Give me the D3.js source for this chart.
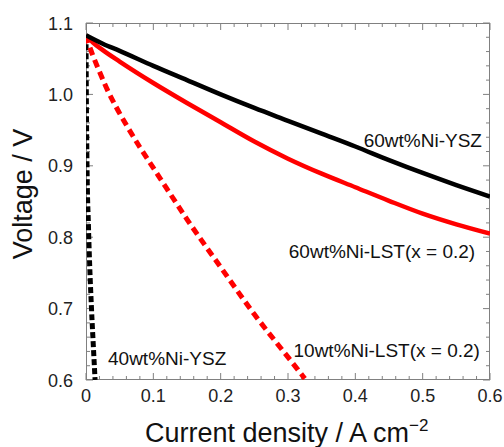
<!DOCTYPE html>
<html>
  <head>
    <meta charset="utf-8">
    <title>I-V curves</title>
    <script src="https://d3js.org/d3.v7.min.js"></script>
    <style>
      body { margin: 0; background: #fff; }
      svg { font-family: "Liberation Sans", Arial, sans-serif; }
      .frame { fill: none; stroke: #808080; stroke-width: 1; }
      .tick line { stroke: #808080; }
      .tickLabel { font-size: 18px; fill: #222; }
      .title { font-size: 27px; fill: #111; }
      .label { font-size: 19px; fill: #111; }
    </style>
  </head>
  <body>
    <svg id="chart" width="504" height="447"></svg>
    <script>
      // data: current density (A cm-2) and voltage (V)
      var ysz60I = [0, 0.01, 0.025, 0.05, 0.1, 0.15, 0.2, 0.25, 0.3, 0.35, 0.4, 0.45, 0.5, 0.55, 0.6];
      var ysz60V = [1.083, 1.078, 1.071, 1.061, 1.040, 1.020, 1.000, 0.981, 0.963, 0.945, 0.927, 0.908, 0.890, 0.873, 0.857];
      var lst60I = [0, 0.01, 0.025, 0.05, 0.1, 0.15, 0.2, 0.25, 0.3, 0.35, 0.4, 0.45, 0.5, 0.55, 0.6];
      var lst60V = [1.083, 1.073, 1.062, 1.046, 1.016, 0.988, 0.961, 0.934, 0.910, 0.889, 0.870, 0.851, 0.833, 0.818, 0.805];
      var lst10I = [0, 0.005, 0.01, 0.02, 0.03, 0.045, 0.06, 0.08, 0.1, 0.12, 0.15, 0.2, 0.25, 0.3, 0.325];
      var lst10V = [1.083, 1.068, 1.055, 1.032, 1.010, 0.982, 0.957, 0.926, 0.897, 0.868, 0.825, 0.758, 0.692, 0.632, 0.602];
      var ysz40I = [0, 0.0005, 0.0015, 0.0035, 0.0055, 0.008, 0.0105, 0.0135];
      var ysz40V = [1.083, 1.0, 0.9, 0.82, 0.76, 0.703, 0.655, 0.6];

      var xTicks = [0, 0.1, 0.2, 0.3, 0.4, 0.5, 0.6];
      var yTicks = [0.6, 0.7, 0.8, 0.9, 1.0, 1.1];
      var xTickLabels = ["0", "0.1", "0.2", "0.3", "0.4", "0.5", "0.6"];
      var yTickLabels = ["0.6", "0.7", "0.8", "0.9", "1.0", "1.1"];

      var series = [
        { name: "60wt%Ni-YSZ", I: ysz60I, V: ysz60V, color: "#000", dash: null, width: 4.5 },
        { name: "60wt%Ni-LST(x = 0.2)", I: lst60I, V: lst60V, color: "#ff0000", dash: null, width: 4.5 },
        { name: "10wt%Ni-LST(x = 0.2)", I: lst10I, V: lst10V, color: "#ff0000", dash: "8,5", width: 5 },
        { name: "40wt%Ni-YSZ", I: ysz40I, V: ysz40V, color: "#000", dash: "6,3", width: 5 }
      ];

      // label anchors in data units
      var labels = [
        { text: "60wt%Ni-YSZ", I: 0.588, V: 0.9264, anchor: "end" },
        { text: "60wt%Ni-LST(x = 0.2)", I: 0.578, V: 0.771, anchor: "end" },
        { text: "10wt%Ni-LST(x = 0.2)", I: 0.585, V: 0.6317, anchor: "end" },
        { text: "40wt%Ni-YSZ", I: 0.0327, V: 0.6205, anchor: "start" }
      ];

      var margin = { top: 23, right: 14, bottom: 67, left: 86 };
      var width = 504, height = 447;
      var chart = d3.select("#chart");

      var x = d3.scaleLinear().domain([0, 0.6]).range([margin.left, width - margin.right]);
      var y = d3.scaleLinear().domain([0.6, 1.1]).range([height - margin.bottom, margin.top]);

      var x0 = x.range()[0], x1 = x.range()[1], y0 = y.range()[0], y1 = y.range()[1];

      chart.append("clipPath").attr("id", "plotClip")
        .append("rect")
          .attr("x", x0).attr("y", y1)
          .attr("width", x1 - x0).attr("height", y0 - y1);

      // inward ticks on all four sides
      var xMinor = d3.range(0, 0.6001, 0.02);
      var yMinor = d3.range(0.6, 1.1001, 0.02);
      var tickG = chart.append("g").attr("class", "tick");
      function isMajor(v) { return Math.abs(v * 10 - Math.round(v * 10)) < 1e-6; }
      xMinor.forEach(function(v) {
        var len = isMajor(v) ? 7 : 4;
        tickG.append("line").attr("x1", x(v)).attr("x2", x(v)).attr("y1", y0).attr("y2", y0 - len);
        tickG.append("line").attr("x1", x(v)).attr("x2", x(v)).attr("y1", y1).attr("y2", y1 + len);
      });
      yMinor.forEach(function(v) {
        var len = isMajor(v) ? 7 : 4;
        tickG.append("line").attr("y1", y(v)).attr("y2", y(v)).attr("x1", x0).attr("x2", x0 + len);
        tickG.append("line").attr("y1", y(v)).attr("y2", y(v)).attr("x1", x1).attr("x2", x1 - len);
      });

      chart.append("rect").attr("class", "frame")
        .attr("x", x0 + 0.5).attr("y", y1 + 0.5)
        .attr("width", x1 - x0 - 1).attr("height", y0 - y1 - 1);

      // tick labels
      chart.selectAll(".xLab").data(xTicks).enter()
        .append("text").attr("class", "tickLabel")
          .attr("x", function(d) { return x(d); })
          .attr("y", y0 + 22)
          .attr("text-anchor", "middle")
          .text(function(d, i) { return xTickLabels[i]; });
      chart.selectAll(".yLab").data(yTicks).enter()
        .append("text").attr("class", "tickLabel")
          .attr("x", x0 - 13)
          .attr("y", function(d) { return y(d) + 6.5; })
          .attr("text-anchor", "end")
          .text(function(d, i) { return yTickLabels[i]; });

      // curves
      var line = d3.line()
        .x(function(d) { return x(d[0]); })
        .y(function(d) { return y(d[1]); })
        .curve(d3.curveMonotoneX);
      var plot = chart.append("g").attr("clip-path", "url(#plotClip)");
      series.slice().reverse().forEach(function(s) {
        var pts = s.I.map(function(v, i) { return [v, s.V[i]]; });
        plot.append("path")
          .attr("d", line(pts))
          .attr("fill", "none")
          .attr("stroke", s.color)
          .attr("stroke-width", s.width)
          .attr("stroke-dasharray", s.dash);
      });

      // series labels
      chart.selectAll(".label").data(labels).enter()
        .append("text").attr("class", "label")
          .attr("x", function(d) { return x(d.I); })
          .attr("y", function(d) { return y(d.V); })
          .attr("text-anchor", function(d) { return d.anchor; })
          .text(function(d) { return d.text; });

      // axis titles
      var xt = chart.append("text").attr("class", "title")
        .attr("x", 145).attr("y", 442);
      xt.append("tspan").text("Current density / A cm");
      xt.append("tspan").attr("dy", -11).attr("font-size", "17px").text("\u22122");
      chart.append("text").attr("class", "title")
        .attr("transform", "translate(32," + 194 + ") rotate(-90)")
        .attr("text-anchor", "middle")
        .text("Voltage / V");
    </script>
  </body>
</html>
